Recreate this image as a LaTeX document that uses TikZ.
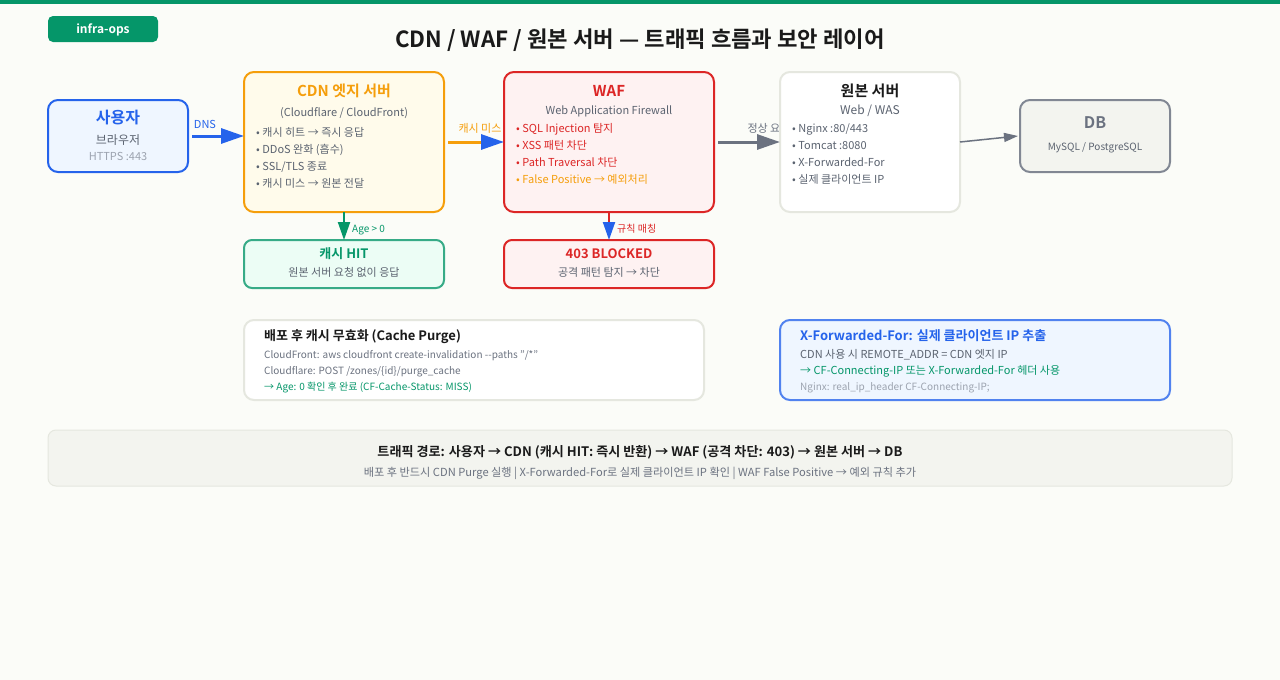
\documentclass[tikz,border=0pt]{standalone}
\usepackage{fontspec}
\setmainfont{Noto Sans CJK KR}[BoldFont={Noto Sans CJK KR Bold}]
\usepackage{tikz}
\usetikzlibrary{arrows.meta}
\definecolor{pagebg}{HTML}{FBFCF8}
\definecolor{opsgreen}{HTML}{059669}
\definecolor{userblue}{HTML}{2563EB}
\definecolor{userfill}{HTML}{EFF6FF}
\definecolor{cdnamber}{HTML}{F59E0B}
\definecolor{cdnfill}{HTML}{FFFBEB}
\definecolor{wafred}{HTML}{DC2626}
\definecolor{waffill}{HTML}{FEF2F2}
\definecolor{hitfill}{HTML}{ECFDF5}
\definecolor{slate}{HTML}{6B7280}
\definecolor{darktext}{HTML}{1A1A1A}
\definecolor{bodytext}{HTML}{5B6370}
\definecolor{faint}{HTML}{9CA3AF}
\definecolor{softline}{HTML}{E5E7DF}
\definecolor{softfill}{HTML}{F3F4EF}
\tikzset{
  box/.style n args={4}{draw=#1,fill=#2,line width=2pt,rounded corners=10pt,
    minimum width=#3pt,minimum height=#4pt,inner sep=0pt,outer sep=0pt},
  txt/.style n args={2}{font=\fontsize{#1}{#1}\selectfont,text=#2,anchor=base,inner sep=0pt},
  bold/.style n args={2}{font=\fontsize{#1}{#1}\selectfont\bfseries,text=#2,anchor=base,inner sep=0pt},
  left txt/.style={anchor=base west},
  flow/.style n args={2}{draw=#1,line width=3pt,-{Triangle[length=23pt,width=15pt,color=#2]}},
  drop/.style={draw=#1,line width=2pt,-{Triangle[length=18pt,width=12pt,color=userblue]}},
}
\begin{document}
\begin{tikzpicture}[x=1pt,y=-1pt]
  \useasboundingbox (0,0) rectangle (1280,680);
  \fill[pagebg] (0,0) rectangle (1280,680);
  \fill[opsgreen] (0,0) rectangle (1280,4);
  \node[box={opsgreen}{opsgreen}{110}{26},draw=none,rounded corners=5pt] (tag) at (103,29) {};
  \node[bold={12}{white}] (tagtext) at (103,33) {infra-ops};
  \node[bold={22.25}{darktext}] (title) at (640,47) {CDN / WAF / 원본 서버 — 트래픽 흐름과 보안 레이어};

  % this label runs under the server box
  \node[txt={11}{slate}] (oklabel) at (769,132) {정상 요청};

  % main row
  \node[box={userblue}{userfill}{140}{72}] (user) at (118,136) {};
  \node[box={cdnamber}{cdnfill}{200}{140}] (cdn) at (344,142) {};
  \node[box={wafred}{waffill}{210}{140}] (waf) at (609,142) {};
  \node[box={softline}{white}{180}{140}] (origin) at (870,142) {};
  \node[box={slate!85}{softfill}{150}{72}] (db) at (1095,136) {};
  \node[box={opsgreen!80}{hitfill}{200}{48},rounded corners=8pt] (hit) at (344,264) {};
  \node[box={wafred}{waffill}{210}{48},rounded corners=8pt] (blocked) at (609,264) {};

  \node[bold={16}{userblue}] (usertitle) at (118,123) {사용자};
  \node[txt={12}{bodytext}] (usersub) at (118,144) {브라우저};
  \node[txt={11}{faint}] (userport) at (118,160) {HTTPS :443};

  \node[bold={15}{cdnamber}] (cdntitle) at (344,96) {CDN 엣지 서버};
  \node[txt={11}{bodytext}] (cdnsub) at (344,116) {(Cloudflare / CloudFront)};
  \foreach \line [count=\i] in {• 캐시 히트 → 즉시 응답,• DDoS 완화 (흡수),• SSL/TLS 종료,• 캐시 미스 → 원본 전달}{
    \node[txt={11}{bodytext},left txt] (cdnline\i) at (256,{136+17*(\i-1)}) {\line};
  }

  \node[bold={15}{wafred}] (waftitle) at (609,96) {WAF};
  \node[txt={11}{bodytext}] (wafsub) at (609,114) {Web Application Firewall};
  \foreach \line [count=\i] in {• SQL Injection 탐지,• XSS 패턴 차단,• Path Traversal 차단}{
    \node[txt={11}{wafred},left txt] (wafline\i) at (516,{132+17*(\i-1)}) {\line};
  }
  \node[txt={11}{cdnamber},left txt] (wafline4) at (516,183) {• False Positive → 예외처리};

  \node[bold={15}{darktext}] (origintitle) at (870,96) {원본 서버};
  \node[txt={12}{bodytext}] (originsub) at (870,114) {Web / WAS};
  \foreach \line [count=\i] in {• Nginx :80/443,• Tomcat :8080,• X-Forwarded-For,• 실제 클라이언트 IP}{
    \node[txt={11}{bodytext},left txt] (originline\i) at (792,{132+17*(\i-1)}) {\line};
  }

  \node[bold={16}{slate}] (dbtitle) at (1095,128) {DB};
  \node[txt={10}{bodytext}] (dbsub) at (1095,150) {MySQL / PostgreSQL};

  \node[bold={13}{opsgreen}] (hittitle) at (344,258) {캐시 HIT};
  \node[txt={11}{bodytext}] (hitsub) at (344,276) {원본 서버 요청 없이 응답};
  \node[bold={13}{wafred}] (blockedtitle) at (609,258) {403 BLOCKED};
  \node[txt={11}{bodytext}] (blockedsub) at (609,276) {공격 패턴 탐지 → 차단};

  % connectors
  \draw[flow={userblue}{userblue}] ([xshift=4pt]user.east) -- (user.east -| cdn.west);
  \draw[flow={cdnamber}{userblue}] ([xshift=4pt]cdn.east) -- (waf.west);
  \draw[flow={slate}{slate}] ([xshift=4pt]waf.east) -- (origin.west);
  \draw[slate,line width=1.5pt,-{Triangle[length=14pt,width=9pt]}] (origin.east) -- ([xshift=-2pt]db.west);
  \draw[opsgreen,line width=2pt,-{Triangle[length=18pt,width=12pt]}] (cdn.south) -- (hit.north);
  \draw[drop=wafred] (waf.south) -- (blocked.north);

  \node[txt={11}{userblue}] (dnslabel) at (205,128) {DNS};
  \node[txt={11}{cdnamber}] (misslabel) at (480,132) {캐시 미스};
  \node[txt={10}{opsgreen},left txt] (agelabel) at (352,232) {Age > 0};
  \node[txt={10}{wafred},left txt] (rulelabel) at (617,232) {규칙 매칭};

  % notes
  \node[box={softline}{white}{460}{80}] (purge) at (474,360) {};
  \node[bold={13}{darktext},left txt] (purgetitle) at (264,340) {배포 후 캐시 무효화 (Cache Purge)};
  \node[txt={10}{slate},left txt] (purgeone) at (264,358) {CloudFront: aws cloudfront create-invalidation {-}{-}paths "/*"};
  \node[txt={10}{slate},left txt] (purgetwo) at (264,374) {Cloudflare: POST /zones/\{id\}/purge\_cache};
  \node[txt={10}{opsgreen},left txt] (purgethree) at (264,390) {→ Age: 0 확인 후 완료 (CF-Cache-Status: MISS)};

  \node[box={userblue!80}{userfill}{390}{80}] (xff) at (975,360) {};
  \node[bold={13}{userblue},left txt] (xfftitle) at (800,340) {X-Forwarded-For: 실제 클라이언트 IP 추출};
  \node[txt={11}{bodytext},left txt] (xffone) at (800,358) {CDN 사용 시 REMOTE\_ADDR = CDN 엣지 IP};
  \node[txt={11}{opsgreen},left txt] (xfftwo) at (800,374) {→ CF-Connecting-IP 또는 X-Forwarded-For 헤더 사용};
  \node[txt={10}{faint},left txt] (xffthree) at (800,390) {Nginx: real\_ip\_header CF-Connecting-IP;};

  % footer
  \node[box={softline}{softfill}{1184}{56},line width=1pt,rounded corners=8pt] (footer) at (640,458) {};
  \node[bold={13.1}{darktext}] (footerone) at (640,456) {트래픽 경로: 사용자 → CDN (캐시 HIT: 즉시 반환) → WAF (공격 차단: 403) → 원본 서버 → DB};
  \node[txt={11.15}{slate}] (footertwo) at (640,476) {배포 후 반드시 CDN Purge 실행 | X-Forwarded-For로 실제 클라이언트 IP 확인 | WAF False Positive → 예외 규칙 추가};
\end{tikzpicture}
\end{document}
